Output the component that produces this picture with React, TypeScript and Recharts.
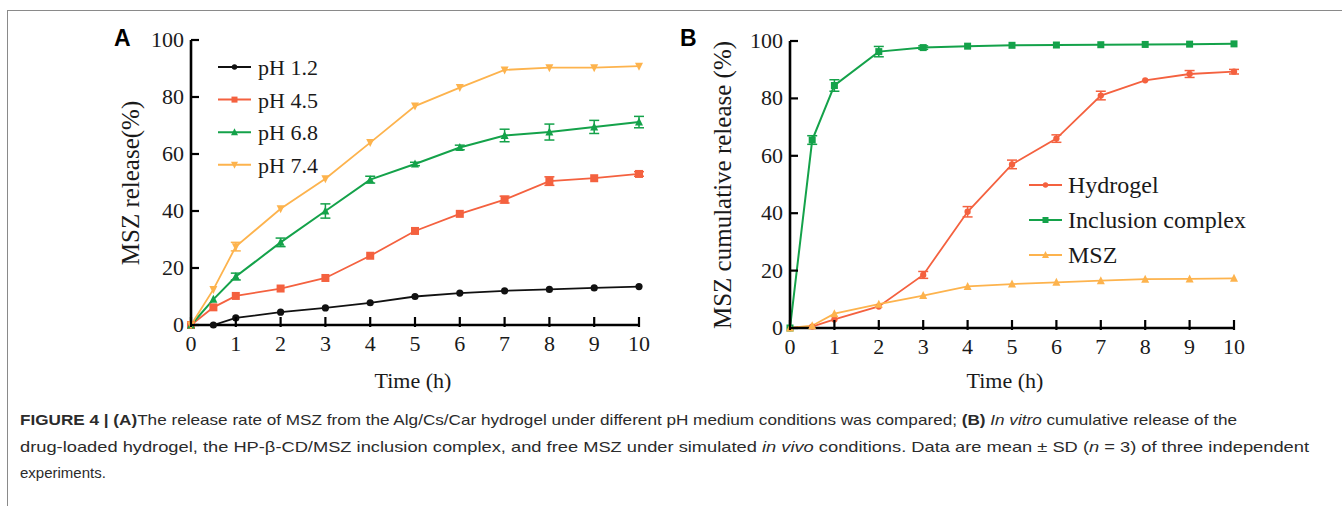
import React from 'react';
import { LineChart, Line, XAxis, YAxis, ErrorBar, Legend } from 'recharts';

// time points (h)
const hoursA = [0, 0.5, 1, 2, 3, 4, 5, 6, 7, 8, 9, 10];
const hoursB = [0, 0.5, 1, 2, 3, 4, 5, 6, 7, 8, 9, 10];
const timeTicks = [0, 1, 2, 3, 4, 5, 6, 7, 8, 9, 10];
const pctTicks = [0, 20, 40, 60, 80, 100];

// panel A - release at different pH
const ph12 = [0, 0, 2.5, 4.5, 6, 7.8, 10, 11.2, 12, 12.5, 13, 13.5];
const ph45 = [0, 6.2, 10.2, 12.8, 16.5, 24.3, 33, 39, 44, 50.5, 51.5, 53];
const ph45Err = [null, null, null, null, null, null, null, null, 1.2, 1.5, null, 0.8];
const ph68 = [0, 9, 17, 29, 40, 51, 56.5, 62.3, 66.5, 67.7, 69.5, 71.2];
const ph68Err = [null, null, 1.2, 1.5, 2.5, 1.2, 0.6, 0.8, 2.2, 2.8, 2.3, 2.0];
const ph74 = [0, 12.5, 27.5, 40.8, 51.3, 64, 76.8, 83.3, 89.5, 90.3, 90.3, 90.8];
const ph74Err = [null, null, 1.5, null, null, null, null, null, null, null, null, null];

// panel B - cumulative release
const hydrogel = [0, 0.5, 3, 7.5, 18.5, 40.5, 57, 66, 81, 86.3, 88.5, 89.3];
const hydrogelErr = [null, null, null, null, 1.2, 1.8, 1.5, 1.3, 1.5, null, 1.2, 0.8];
const inclusion = [0, 65.5, 84.5, 96.3, 97.7, 98.2, 98.5, 98.6, 98.7, 98.8, 98.9, 99];
const inclusionErr = [null, 1.5, 2.0, 1.8, 0.6, null, null, null, null, null, null, null];
const freeMsz = [0, 0.8, 5, 8.3, 11.3, 14.5, 15.3, 15.9, 16.5, 17, 17.1, 17.3];

const BLACK = '#111111';
const RED = '#F4613F';
const GREEN = '#14A24A';
const ORANGE = '#FDB34D';

const SERIF = '"Liberation Serif", "Times New Roman", serif';
const SANS = '"Liberation Sans", Arial, sans-serif';

const rowsA = hoursA.map((t, i) => ({
  t,
  ph12: ph12[i],
  ph45: ph45[i],
  ph45Err: ph45Err[i],
  ph68: ph68[i],
  ph68Err: ph68Err[i],
  ph74: ph74[i],
  ph74Err: ph74Err[i],
}));

const rowsB = hoursB.map((t, i) => ({
  t,
  hydrogel: hydrogel[i],
  hydrogelErr: hydrogelErr[i],
  inclusion: inclusion[i],
  inclusionErr: inclusionErr[i],
  msz: freeMsz[i],
}));

type Shape = 'circle' | 'square' | 'up' | 'down';

const Marker = ({ cx, cy, shape, color, s = 7 }: any) => {
  if (cx == null || cy == null) return null;
  const h = s / 2;
  if (shape === 'circle') return <circle cx={cx} cy={cy} r={h * 0.9} fill={color} />;
  if (shape === 'square') return <rect x={cx - h} y={cy - h} width={s} height={s} fill={color} />;
  if (shape === 'up')
    return <polygon points={`${cx},${cy - h - 1} ${cx - h - 0.5},${cy + h} ${cx + h + 0.5},${cy + h}`} fill={color} />;
  return <polygon points={`${cx},${cy + h + 1} ${cx - h - 0.5},${cy - h} ${cx + h + 0.5},${cy - h}`} fill={color} />;
};

const dotOf = (shape: Shape, color: string, s?: number) => (p: any) =>
  <Marker key={`d-${p.index}`} cx={p.cx} cy={p.cy} shape={shape} color={color} s={s} />;

const makeXTick = (bottom: number) => (p: any) => (
  <g>
    <line x1={p.x} x2={p.x} y1={bottom + 2} y2={bottom - 8} stroke="#000" strokeWidth={2.2} />
    <text x={p.x} y={bottom + 26} textAnchor="middle" fontFamily={SERIF} fontSize={22} fill="#1a1a1a">
      {p.payload.value}
    </text>
  </g>
);

const makeYTick = (left: number) => (p: any) => (
  <g>
    <line x1={left} x2={left + 8} y1={p.y} y2={p.y} stroke="#000" strokeWidth={2.2} />
    <text x={left - 7} y={p.y + 7} textAnchor="end" fontFamily={SERIF} fontSize={22} fill="#1a1a1a">
      {p.payload.value}
    </text>
  </g>
);

const makeLegend = (shapes: Record<string, Shape>, gap: number, fontSize: number, textX: number) => (props: any) => {
  const items = props.payload || [];
  return (
    <svg width={260} height={gap * items.length + 10} style={{ overflow: 'visible' }}>
      {items.map((it: any, i: number) => {
        const y = 16 + i * gap;
        return (
          <g key={it.value}>
            <line x1={8} x2={41} y1={y} y2={y} stroke={it.color} strokeWidth={2} />
            <Marker cx={24.5} cy={y} shape={shapes[it.value]} color={it.color} s={6} />
            <text x={textX} y={y + 8} fontFamily={SERIF} fontSize={fontSize} fill="#1a1a1a">
              {it.value}
            </text>
          </g>
        );
      })}
    </svg>
  );
};

const axisLine = { stroke: '#000', strokeWidth: 2.6 };

export default function App() {
  return (
    <div style={{ position: 'absolute', left: 0, top: 0, width: 1342, height: 506, background: '#fff', overflow: 'hidden' }}>
      <div style={{ position: 'absolute', left: 7, top: 10, width: 1340, height: 500, borderTop: '1.5px solid #8a8a8a', borderLeft: '1.5px solid #8a8a8a' }} />

      {/* Panel A */}
      <div style={{ position: 'absolute', left: 0, top: 0 }}>
        <LineChart width={680} height={400} data={rowsA} margin={{ top: 40, left: 190, right: 41, bottom: 74 }}>
          <XAxis dataKey="t" type="number" domain={[0, 10]} ticks={timeTicks} height={1} axisLine={axisLine} tickLine={false} tick={makeXTick(325)} />
          <YAxis type="number" domain={[0, 100]} ticks={pctTicks} width={1} axisLine={axisLine} tickLine={false} tick={makeYTick(191)} />
          <Legend layout="vertical" align="center" verticalAlign="middle" wrapperStyle={{ left: 210, top: 51, width: 200 }} content={makeLegend({ 'pH 1.2': 'circle', 'pH 4.5': 'square', 'pH 6.8': 'up', 'pH 7.4': 'down' }, 32.6, 22, 48)} />
          <Line type="linear" dataKey="ph12" name="pH 1.2" stroke={BLACK} strokeWidth={1.8} dot={dotOf('circle', BLACK, 8)} activeDot={false} isAnimationActive={false} />
          <Line type="linear" dataKey="ph45" name="pH 4.5" stroke={RED} strokeWidth={1.8} dot={dotOf('square', RED, 8)} activeDot={false} isAnimationActive={false}>
            <ErrorBar dataKey="ph45Err" direction="y" width={5} stroke={RED} strokeWidth={1.5} isAnimationActive={false} />
          </Line>
          <Line type="linear" dataKey="ph68" name="pH 6.8" stroke={GREEN} strokeWidth={2} dot={dotOf('up', GREEN, 7)} activeDot={false} isAnimationActive={false}>
            <ErrorBar dataKey="ph68Err" direction="y" width={5} stroke={GREEN} strokeWidth={1.5} isAnimationActive={false} />
          </Line>
          <Line type="linear" dataKey="ph74" name="pH 7.4" stroke={ORANGE} strokeWidth={1.8} dot={dotOf('down', ORANGE, 7)} activeDot={false} isAnimationActive={false}>
            <ErrorBar dataKey="ph74Err" direction="y" width={5} stroke={ORANGE} strokeWidth={1.5} isAnimationActive={false} />
          </Line>
        </LineChart>
        <svg width={680} height={400} style={{ position: 'absolute', left: 0, top: 0, pointerEvents: 'none' }}>
          <text x={114} y={46} fontFamily={SANS} fontWeight="bold" fontSize={23} fill="#000">A</text>
          <text transform="translate(139,183) rotate(-90)" textAnchor="middle" fontFamily={SERIF} fontSize={25} fill="#1a1a1a">MSZ release(%)</text>
          <text x={413} y={388} textAnchor="middle" fontFamily={SERIF} fontSize={22} fill="#1a1a1a">Time (h)</text>
        </svg>
      </div>

      {/* Panel B */}
      <div style={{ position: 'absolute', left: 660, top: 0 }}>
        <LineChart width={640} height={400} data={rowsB} margin={{ top: 41, left: 129, right: 66, bottom: 71 }}>
          <XAxis dataKey="t" type="number" domain={[0, 10]} ticks={timeTicks} height={1} axisLine={axisLine} tickLine={false} tick={makeXTick(328)} />
          <YAxis type="number" domain={[0, 100]} ticks={pctTicks} width={1} axisLine={axisLine} tickLine={false} tick={makeYTick(130)} />
          <Legend layout="vertical" align="center" verticalAlign="middle" wrapperStyle={{ left: 361, top: 169, width: 260 }} content={makeLegend({ Hydrogel: 'circle', 'Inclusion complex': 'square', MSZ: 'up' }, 35, 24, 47)} />
          <Line type="linear" dataKey="hydrogel" name="Hydrogel" stroke={RED} strokeWidth={1.8} dot={dotOf('circle', RED, 7)} activeDot={false} isAnimationActive={false}>
            <ErrorBar dataKey="hydrogelErr" direction="y" width={5} stroke={RED} strokeWidth={1.5} isAnimationActive={false} />
          </Line>
          <Line type="linear" dataKey="inclusion" name="Inclusion complex" stroke={GREEN} strokeWidth={2} dot={dotOf('square', GREEN, 7)} activeDot={false} isAnimationActive={false}>
            <ErrorBar dataKey="inclusionErr" direction="y" width={5} stroke={GREEN} strokeWidth={1.5} isAnimationActive={false} />
          </Line>
          <Line type="linear" dataKey="msz" name="MSZ" stroke={ORANGE} strokeWidth={1.8} dot={dotOf('up', ORANGE, 7)} activeDot={false} isAnimationActive={false} />
        </LineChart>
        <svg width={640} height={400} style={{ position: 'absolute', left: 0, top: 0, pointerEvents: 'none' }}>
          <text x={20} y={46} fontFamily={SANS} fontWeight="bold" fontSize={23} fill="#000">B</text>
          <text transform="translate(71,185) rotate(-90)" textAnchor="middle" fontFamily={SERIF} fontSize={25} fill="#1a1a1a">MSZ cumulative release (%)</text>
          <text x={345} y={388} textAnchor="middle" fontFamily={SERIF} fontSize={22} fill="#1a1a1a">Time (h)</text>
        </svg>
      </div>

      {/* Caption */}
      <svg width={1342} height={111} style={{ position: 'absolute', left: 0, top: 395 }}>
        <text x={20} y={30} fontFamily={SANS} fontSize={15} fill="#2b2b2b" textLength={1217} lengthAdjust="spacingAndGlyphs">
          <tspan fontWeight="bold">FIGURE 4 | (A)</tspan>
          <tspan>The release rate of MSZ from the Alg/Cs/Car hydrogel under different pH medium conditions was compared; </tspan>
          <tspan fontWeight="bold">(B)</tspan>
          <tspan> </tspan>
          <tspan fontStyle="italic">In vitro</tspan>
          <tspan> cumulative release of the</tspan>
        </text>
        <text x={20} y={57} fontFamily={SANS} fontSize={15} fill="#2b2b2b" textLength={1289} lengthAdjust="spacingAndGlyphs">
          <tspan>drug-loaded hydrogel, the HP-β-CD/MSZ inclusion complex, and free MSZ under simulated </tspan>
          <tspan fontStyle="italic">in vivo</tspan>
          <tspan> conditions. Data are mean ± SD (</tspan>
          <tspan fontStyle="italic">n</tspan>
          <tspan> = 3) of three independent</tspan>
        </text>
        <text x={20} y={83} fontFamily={SANS} fontSize={15} fill="#2b2b2b">experiments.</text>
      </svg>
    </div>
  );
}
